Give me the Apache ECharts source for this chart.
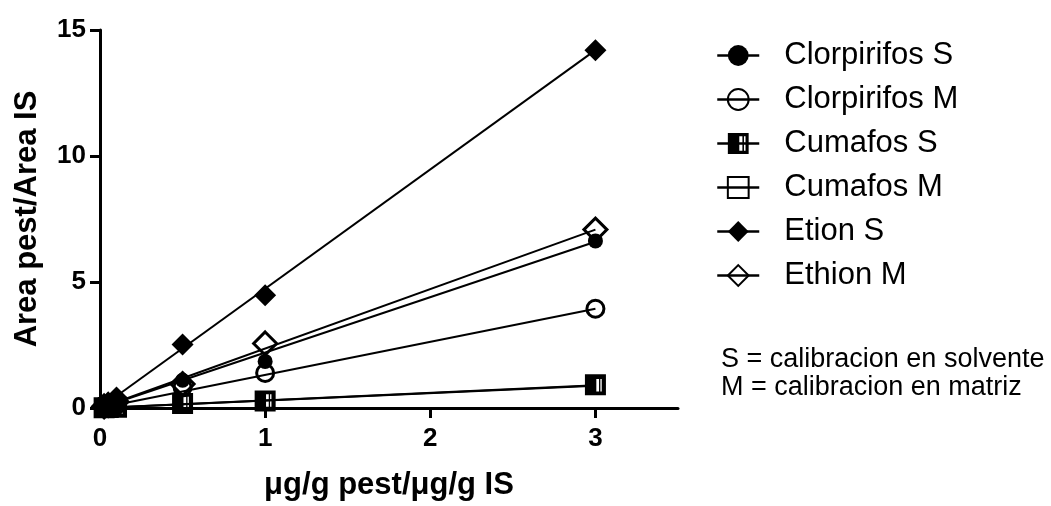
<!DOCTYPE html>
<html>
<head>
<meta charset="utf-8">
<script src="https://cdn.jsdelivr.net/npm/echarts@6/dist/echarts.min.js"></script>
<style>
  html, body { margin: 0; padding: 0; background: #fff; }
  #chart { width: 1051px; height: 506px; }
</style>
</head>
<body>
<div id="chart"></div>
<script>
// Concentration ratio (x) for every calibration level
const levels = [0.025, 0.05, 0.1, 0.5, 1, 3];

// Measured area ratios per pesticide / calibration medium
const clorpirifosS = [0.05, 0.10, 0.20, 1.10, 1.85, 6.63];
const clorpirifosM = [0.03, 0.06, 0.12, 0.82, 1.39, 3.94];
const cumafosS     = [0.01, 0.02, 0.03, 0.20, 0.30, 0.90];
const cumafosM     = [0.01, 0.02, 0.03, 0.18, 0.28, 0.92];
const etionS       = [0.10, 0.20, 0.42, 2.52, 4.47, 14.20];
const ethionM      = [0.06, 0.12, 0.25, 0.95, 2.56, 7.08];

// Calibration (regression) lines: values at the ends of the range
const fitX            = [0, 3];
const fitClorpirifosS = [0, 6.60];
const fitClorpirifosM = [0, 3.94];
const fitCumafosS     = [0, 0.88];
const fitCumafosM     = [0, 0.90];
const fitEtionS       = [0, 14.20];
const fitEthionM      = [0, 7.08];

const xTicks = [0, 1, 2, 3];
const yTicks = [0, 5, 10, 15];

const FONT = "'Liberation Sans', Arial, Helvetica, sans-serif";
const BLACK = '#000';

// Square with a solid left half and a split right half
const halfSquare = 'path://M0 0L20 0L20 20L0 20ZM11 3L11 17L14 17L14 3ZM15.5 3L15.5 17L17 17L17 3Z';

const groups = [
  { name: 'Clorpirifos S', y: clorpirifosS, fit: fitClorpirifosS, symbol: 'circle',   size: 15, fill: BLACK, border: 0 },
  { name: 'Clorpirifos M', y: clorpirifosM, fit: fitClorpirifosM, symbol: 'circle',   size: 17, fill: 'rgba(0,0,0,0)', border: 3 },
  { name: 'Cumafos S',     y: cumafosS,     fit: fitCumafosS,     symbol: halfSquare, size: 18, fill: BLACK, border: 0 },
  { name: 'Cumafos M',     y: cumafosM,     fit: fitCumafosM,     symbol: 'rect',     size: 18, fill: 'rgba(0,0,0,0)', border: 3 },
  { name: 'Etion S',       y: etionS,       fit: fitEtionS,       symbol: 'diamond',  size: 22, fill: BLACK, border: 0 },
  { name: 'Ethion M',      y: ethionM,      fit: fitEthionM,      symbol: 'diamond',  size: 23, fill: 'rgba(0,0,0,0)', border: 3 }
];

const series = [];
groups.forEach(g => {
  series.push({
    name: 'fit ' + g.name,
    type: 'line',
    data: fitX.map((x, i) => [x, g.fit[i]]),
    symbol: 'none',
    silent: true,
    z: 2,
    lineStyle: { color: BLACK, width: 2 }
  });
});
groups.forEach(g => {
  series.push({
    name: g.name,
    type: 'line',
    data: levels.map((x, i) => [x, g.y[i]]),
    symbol: g.symbol,
    symbolSize: g.size,
    showAllSymbol: true,
    z: 3,
    lineStyle: { color: BLACK, width: 2, opacity: 0 },
    itemStyle: { color: g.fill, borderColor: BLACK, borderWidth: g.border, opacity: 1 },
    emphasis: { disabled: true }
  });
});

const chart = echarts.init(document.getElementById('chart'), null, { renderer: 'canvas' });
chart.setOption({
  animation: false,
  backgroundColor: '#fff',
  textStyle: { fontFamily: FONT, color: BLACK },
  grid: { left: 100, right: 373, top: 30, bottom: 94, containLabel: false },
  title: {
    text: 'S = calibracion en solvente\nM = calibracion en matriz',
    left: 721,
    top: 346,
    padding: 0,
    textStyle: { fontFamily: FONT, fontSize: 27, fontWeight: 'normal', color: BLACK, lineHeight: 28 }
  },
  legend: {
    data: groups.map(g => g.name),
    orient: 'vertical',
    left: 716,
    top: 40,
    padding: 0,
    itemWidth: 42,
    itemHeight: 26,
    itemGap: 13,
    selectedMode: false,
    lineStyle: { color: BLACK, width: 2.5, opacity: 1 },
    textStyle: { fontFamily: FONT, fontSize: 31, color: BLACK, padding: [0, 0, 0, 20] }
  },
  xAxis: {
    type: 'value',
    min: 0,
    max: 3.5,
    interval: 1,
    name: 'μg/g pest/μg/g IS',
    nameLocation: 'middle',
    nameGap: 62,
    nameTextStyle: { fontFamily: FONT, fontSize: 31, fontWeight: 'bold', color: BLACK },
    splitLine: { show: false },
    axisLine: { onZero: false, lineStyle: { color: BLACK, width: 3 } },
    axisTick: { customValues: xTicks, length: 10, lineStyle: { color: BLACK, width: 3 } },
    axisLabel: { customValues: xTicks, margin: 18, fontFamily: FONT, fontSize: 26, fontWeight: 'bold', color: BLACK }
  },
  yAxis: {
    type: 'value',
    min: 0,
    max: 15,
    interval: 5,
    name: 'Area pest/Area IS',
    nameLocation: 'middle',
    nameGap: 57,
    nameTextStyle: { fontFamily: FONT, fontSize: 31, fontWeight: 'bold', color: BLACK },
    splitLine: { show: false },
    axisLine: { show: true, lineStyle: { color: BLACK, width: 3 } },
    axisTick: { show: true, customValues: yTicks, length: 10, lineStyle: { color: BLACK, width: 3 } },
    axisLabel: { customValues: yTicks, margin: 14, fontFamily: FONT, fontSize: 26, fontWeight: 'bold', color: BLACK }
  },
  series: series
});
</script>
</body>
</html>
